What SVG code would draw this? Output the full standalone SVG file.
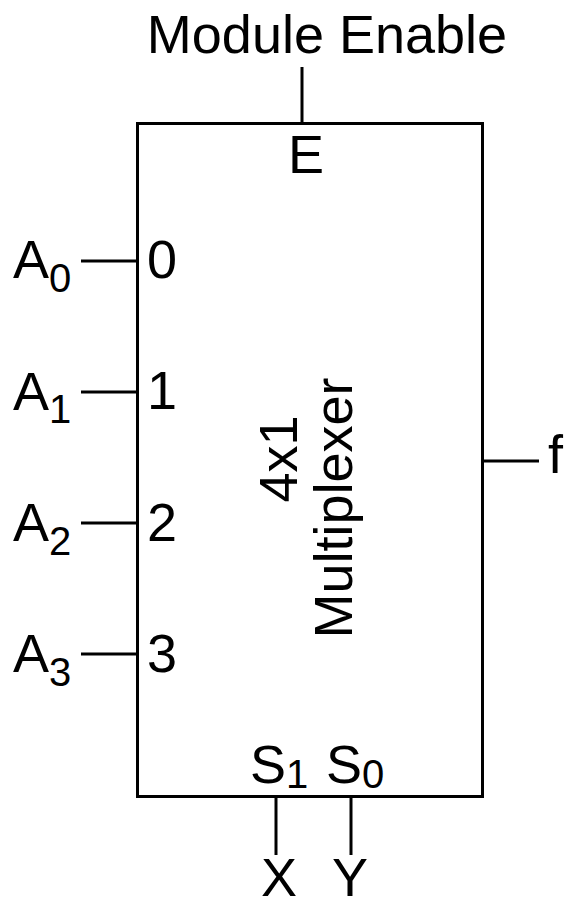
<svg xmlns="http://www.w3.org/2000/svg" width="575" height="906" viewBox="0 0 575 906">
<style>
text{font-family:"Liberation Sans",Arial,sans-serif;font-size:54px;fill:#000}
.sub{font-size:40px}
.ln,.box{stroke:#000;stroke-width:3;fill:none}
</style>
<rect width="575" height="906" fill="#fff"/>
<g id="mux">
<rect class="box" x="137.5" y="123.5" width="345" height="673"/>
<text x="306" y="173" text-anchor="middle">E</text>
<text x="147" y="278">0</text>
<text x="147" y="409">1</text>
<text x="147" y="541">2</text>
<text x="147" y="672">3</text>
<text x="250" y="783">S<tspan class="sub" dy="5">1</tspan></text>
<text x="326" y="783">S<tspan class="sub" dy="5">0</tspan></text>
<text transform="translate(297,459) rotate(-90)" text-anchor="middle">4x1</text>
<text transform="translate(352,508) rotate(-90)" text-anchor="middle">Multiplexer</text>
</g>
<g id="enable"><text x="327" y="53" text-anchor="middle">Module Enable</text></g>
<g id="a0"><text x="13" y="278">A<tspan class="sub" dy="14">0</tspan></text></g>
<g id="a1"><text x="13" y="410">A<tspan class="sub" dy="13">1</tspan></text></g>
<g id="a2"><text x="13" y="541">A<tspan class="sub" dy="14">2</tspan></text></g>
<g id="a3"><text x="13" y="672">A<tspan class="sub" dy="14">3</tspan></text></g>
<g id="f"><text x="548" y="473">f</text></g>
<g id="x"><text x="261" y="896">X</text></g>
<g id="y"><text x="332" y="896">Y</text></g>
<g id="connectors">
<line class="ln" x1="302" y1="67" x2="302" y2="123"/>
<line class="ln" x1="81" y1="261" x2="137" y2="261"/>
<line class="ln" x1="81" y1="392" x2="137" y2="392"/>
<line class="ln" x1="81" y1="523" x2="137" y2="523"/>
<line class="ln" x1="81" y1="654" x2="137" y2="654"/>
<line class="ln" x1="483" y1="461" x2="539" y2="461"/>
<line class="ln" x1="276" y1="797" x2="276" y2="855"/>
<line class="ln" x1="351" y1="797" x2="351" y2="855"/>
</g>
</svg>
